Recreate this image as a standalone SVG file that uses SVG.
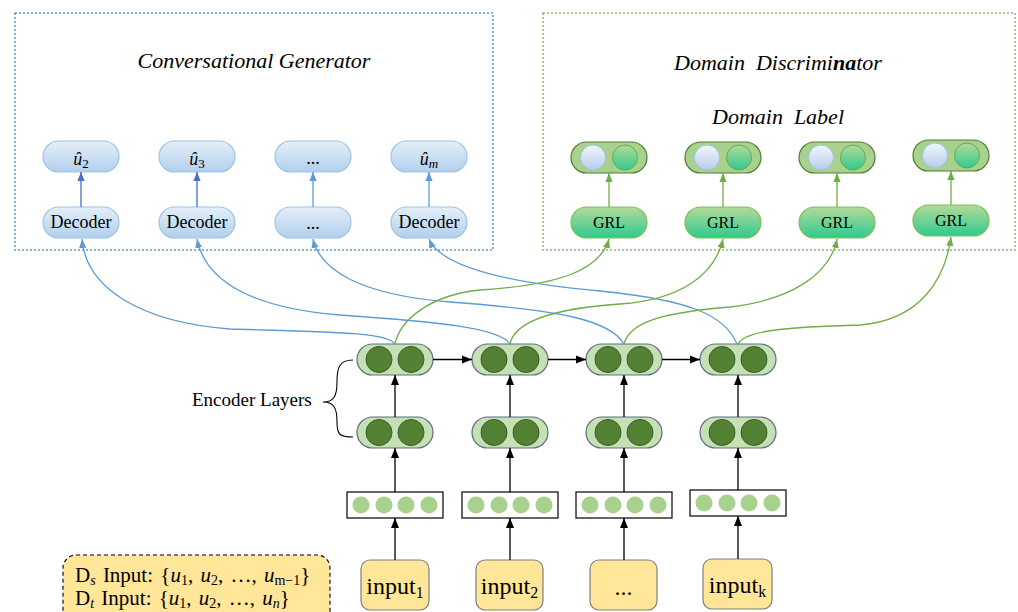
<svg xmlns="http://www.w3.org/2000/svg" width="1018" height="612" viewBox="0 0 1018 612">
<defs>
<linearGradient id="gBlue" x1="0" y1="0" x2="0" y2="1"><stop offset="0" stop-color="#e4eff9"/><stop offset="1" stop-color="#b2cfec"/></linearGradient>
<linearGradient id="gGrl" x1="0" y1="0" x2="0" y2="1"><stop offset="0" stop-color="#b3da98"/><stop offset="1" stop-color="#2fca8f"/></linearGradient>
<linearGradient id="gBc" x1="0" y1="0" x2="0" y2="1"><stop offset="0" stop-color="#f2f7fd"/><stop offset="1" stop-color="#b6cdea"/></linearGradient>
<marker id="aK" viewBox="0 0 10 10" refX="10" refY="5" markerWidth="10" markerHeight="10" markerUnits="userSpaceOnUse" orient="auto"><path d="M0,1 L10,5 L0,9 z" fill="#000"/></marker>
<marker id="aB" viewBox="0 0 10 10" refX="10" refY="5" markerWidth="9" markerHeight="9" markerUnits="userSpaceOnUse" orient="auto"><path d="M0,1 L10,5 L0,9 z" fill="#5b9bd5"/></marker>
<marker id="aB2" viewBox="0 0 10 10" refX="10" refY="5" markerWidth="9" markerHeight="9" markerUnits="userSpaceOnUse" orient="auto"><path d="M0,1 L10,5 L0,9 z" fill="#4472c4"/></marker>
<marker id="aG" viewBox="0 0 10 10" refX="10" refY="5" markerWidth="9" markerHeight="9" markerUnits="userSpaceOnUse" orient="auto"><path d="M0,1 L10,5 L0,9 z" fill="#70ad47"/></marker>
</defs>
<style>
text{font-family:"Liberation Serif","Times New Roman",serif;fill:#000}
.ttl{font-size:22px;font-style:italic}
.dec{fill:url(#gBlue);stroke:#9dc3e6;stroke-width:1.2}
.grl{fill:url(#gGrl);stroke:#7fbf56;stroke-width:1.2}
.lab{fill:#a9d18e;stroke:#507e32;stroke-width:1.2}
.bc{fill:url(#gBc);stroke:#9dc3e6;stroke-width:1}
.gc{fill:url(#gGrl);stroke:#6aa843;stroke-width:1}
.enc{fill:#c5e0b4;stroke:#5e6e7e;stroke-width:1.2}
.ec{fill:#548235;stroke:#3b5c24;stroke-width:1}
.emb{fill:#fff;stroke:#000;stroke-width:1.2}
.ed{fill:#a9d18e}
.inp{fill:#ffe699;stroke:#7f7f7f;stroke-width:1.2}
.nt{font-size:18px;text-anchor:middle}
.gt{font-size:16px;text-anchor:middle}
.it{font-size:24px;text-anchor:middle}
.blue{fill:none;stroke:#5b9bd5;stroke-width:1.3;marker-end:url(#aB)}
.green{fill:none;stroke:#70ad47;stroke-width:1.3;marker-end:url(#aG)}
.blk{fill:none;stroke:#000;stroke-width:1.3;marker-end:url(#aK)}
.lg{font-size:21px;word-spacing:2px}
</style>

<g id="generator-frame">
<rect x="15" y="13" width="478" height="237" fill="none" stroke="#5b9bd5" stroke-width="1.5" stroke-dasharray="2,2"/>
<text class="ttl" x="254" y="68" text-anchor="middle">Conversational Generator</text>
</g>
<g id="discriminator-frame">
<rect x="543" y="13" width="472" height="237" fill="none" stroke="#8fb878" stroke-width="1.5" stroke-dasharray="2,2"/>
<text class="ttl" x="778" y="70" text-anchor="middle" xml:space="preserve">Domain  Discrimi<tspan font-weight="bold">na</tspan>tor</text>
<text class="ttl" x="778" y="124" text-anchor="middle" xml:space="preserve">Domain  Label</text>
</g>

<g id="out1"><rect class="dec" x="43" y="141" width="76" height="31" rx="15.5"/><text class="nt" x="81" y="165"><tspan font-style="italic">û</tspan><tspan font-size="13" dy="3">2</tspan></text></g>
<g id="out2"><rect class="dec" x="159" y="141" width="76" height="31" rx="15.5"/><text class="nt" x="197" y="165"><tspan font-style="italic">û</tspan><tspan font-size="13" dy="3">3</tspan></text></g>
<g id="out3"><rect class="dec" x="275" y="141" width="76" height="31" rx="15.5"/><text class="nt" x="313" y="164">...</text></g>
<g id="out4"><rect class="dec" x="391" y="141" width="76" height="31" rx="15.5"/><text class="nt" x="429" y="165"><tspan font-style="italic">û</tspan><tspan font-size="13" font-style="italic" dy="3">m</tspan></text></g>

<g id="dec1"><rect class="dec" x="43" y="207" width="76" height="31" rx="15.5"/><text class="nt" x="81" y="228">Decoder</text></g>
<g id="dec2"><rect class="dec" x="159" y="207" width="76" height="31" rx="15.5"/><text class="nt" x="197" y="228">Decoder</text></g>
<g id="dec3"><rect class="dec" x="275" y="207" width="76" height="31" rx="15.5"/><text class="nt" x="313" y="229">...</text></g>
<g id="dec4"><rect class="dec" x="391" y="207" width="76" height="31" rx="15.5"/><text class="nt" x="429" y="228">Decoder</text></g>

<g id="label1"><rect class="lab" x="571" y="142" width="76" height="31" rx="15.5"/><circle class="bc" cx="593" cy="157.5" r="12.5"/><circle class="gc" cx="625" cy="157.5" r="12.5"/></g>
<g id="label2"><rect class="lab" x="685" y="142" width="76" height="31" rx="15.5"/><circle class="bc" cx="707" cy="157.5" r="12.5"/><circle class="gc" cx="739" cy="157.5" r="12.5"/></g>
<g id="label3"><rect class="lab" x="799" y="142" width="76" height="31" rx="15.5"/><circle class="bc" cx="821" cy="157.5" r="12.5"/><circle class="gc" cx="853" cy="157.5" r="12.5"/></g>
<g id="label4"><rect class="lab" x="913" y="140" width="76" height="31" rx="15.5"/><circle class="bc" cx="935" cy="155.5" r="12.5"/><circle class="gc" cx="967" cy="155.5" r="12.5"/></g>

<g id="grl1"><rect class="grl" x="571" y="207" width="76" height="31" rx="15.5"/><text class="gt" x="609" y="228">GRL</text></g>
<g id="grl2"><rect class="grl" x="685" y="207" width="76" height="31" rx="15.5"/><text class="gt" x="723" y="228">GRL</text></g>
<g id="grl3"><rect class="grl" x="799" y="207" width="76" height="31" rx="15.5"/><text class="gt" x="837" y="228">GRL</text></g>
<g id="grl4"><rect class="grl" x="913" y="205" width="76" height="31" rx="15.5"/><text class="gt" x="951" y="226">GRL</text></g>

<g id="enc-top1"><rect class="enc" x="357" y="344" width="76" height="31" rx="15.5"/><circle class="ec" cx="379" cy="359.5" r="13"/><circle class="ec" cx="411" cy="359.5" r="13"/></g>
<g id="enc-top2"><rect class="enc" x="472" y="344" width="76" height="31" rx="15.5"/><circle class="ec" cx="494" cy="359.5" r="13"/><circle class="ec" cx="526" cy="359.5" r="13"/></g>
<g id="enc-top3"><rect class="enc" x="586" y="344" width="76" height="31" rx="15.5"/><circle class="ec" cx="608" cy="359.5" r="13"/><circle class="ec" cx="640" cy="359.5" r="13"/></g>
<g id="enc-top4"><rect class="enc" x="700" y="344" width="76" height="31" rx="15.5"/><circle class="ec" cx="722" cy="359.5" r="13"/><circle class="ec" cx="754" cy="359.5" r="13"/></g>

<g id="enc-bot1"><rect class="enc" x="357" y="417" width="76" height="31" rx="15.5"/><circle class="ec" cx="379" cy="432.5" r="13"/><circle class="ec" cx="411" cy="432.5" r="13"/></g>
<g id="enc-bot2"><rect class="enc" x="472" y="417" width="76" height="31" rx="15.5"/><circle class="ec" cx="494" cy="432.5" r="13"/><circle class="ec" cx="526" cy="432.5" r="13"/></g>
<g id="enc-bot3"><rect class="enc" x="586" y="417" width="76" height="31" rx="15.5"/><circle class="ec" cx="608" cy="432.5" r="13"/><circle class="ec" cx="640" cy="432.5" r="13"/></g>
<g id="enc-bot4"><rect class="enc" x="700" y="417" width="76" height="31" rx="15.5"/><circle class="ec" cx="722" cy="432.5" r="13"/><circle class="ec" cx="754" cy="432.5" r="13"/></g>

<g id="encoder-label">
<text x="192" y="406" font-size="19">Encoder Layers</text>
<path d="M353,360 C339,360 337,368 337,382 C337,396 334,402 323,402 C334,402 337,408 337,422 C337,434 339,437 353,437" fill="none" stroke="#000" stroke-width="1.1"/>
</g>

<g id="emb1"><rect class="emb" x="347" y="492" width="96" height="26"/><circle class="ed" cx="361" cy="505" r="8.5"/><circle class="ed" cx="384" cy="505" r="8.5"/><circle class="ed" cx="406" cy="505" r="8.5"/><circle class="ed" cx="429" cy="505" r="8.5"/></g>
<g id="emb2"><rect class="emb" x="462" y="492" width="96" height="26"/><circle class="ed" cx="476" cy="505" r="8.5"/><circle class="ed" cx="499" cy="505" r="8.5"/><circle class="ed" cx="521" cy="505" r="8.5"/><circle class="ed" cx="544" cy="505" r="8.5"/></g>
<g id="emb3"><rect class="emb" x="576" y="492" width="96" height="26"/><circle class="ed" cx="590" cy="505" r="8.5"/><circle class="ed" cx="613" cy="505" r="8.5"/><circle class="ed" cx="635" cy="505" r="8.5"/><circle class="ed" cx="658" cy="505" r="8.5"/></g>
<g id="emb4"><rect class="emb" x="690" y="490" width="96" height="26"/><circle class="ed" cx="704" cy="503" r="8.5"/><circle class="ed" cx="727" cy="503" r="8.5"/><circle class="ed" cx="749" cy="503" r="8.5"/><circle class="ed" cx="772" cy="503" r="8.5"/></g>

<g id="input1"><rect class="inp" x="361" y="560" width="68" height="50" rx="9"/><text class="it" x="395" y="594">input<tspan font-size="16" dy="4">1</tspan></text></g>
<g id="input2"><rect class="inp" x="476" y="560" width="67" height="50" rx="9"/><text class="it" x="509.5" y="594">input<tspan font-size="16" dy="4">2</tspan></text></g>
<g id="input3"><rect class="inp" x="590" y="560" width="67" height="50" rx="9"/><text class="it" x="623.5" y="595">...</text></g>
<g id="input4"><rect class="inp" x="703" y="559" width="69" height="50" rx="9"/><text class="it" x="737.5" y="593">input<tspan font-size="16" dy="4">k</tspan></text></g>

<g id="legend">
<rect x="63" y="555" width="267" height="70" rx="13" fill="#ffe699" stroke="#000" stroke-width="1.1" stroke-dasharray="4,3"/>
<text class="lg" x="75" y="582">D<tspan font-size="14" font-style="italic" dy="3">s</tspan><tspan dy="-3"> Input: {</tspan><tspan font-style="italic">u</tspan><tspan font-size="14" dy="3">1</tspan><tspan dy="-3">, </tspan><tspan font-style="italic">u</tspan><tspan font-size="14" dy="3">2</tspan><tspan dy="-3">, …, </tspan><tspan font-style="italic">u</tspan><tspan font-size="14" dy="3">m−1</tspan><tspan dy="-3">}</tspan></text>
<text class="lg" x="75" y="605">D<tspan font-size="14" font-style="italic" dy="3">t</tspan><tspan dy="-3"> Input: {</tspan><tspan font-style="italic">u</tspan><tspan font-size="14" dy="3">1</tspan><tspan dy="-3">, </tspan><tspan font-style="italic">u</tspan><tspan font-size="14" dy="3">2</tspan><tspan dy="-3">, …, </tspan><tspan font-style="italic">u</tspan><tspan font-size="14" font-style="italic" dy="3">n</tspan><tspan dy="-3">}</tspan></text>
</g>

<g id="connectors">
<line x1="81" y1="207" x2="81" y2="172" stroke="#4472c4" stroke-width="1.3" marker-end="url(#aB2)"/>
<line x1="197" y1="207" x2="197" y2="172" stroke="#4472c4" stroke-width="1.3" marker-end="url(#aB2)"/>
<line x1="313" y1="207" x2="313" y2="172" stroke="#5b9bd5" stroke-width="1.3" marker-end="url(#aB)"/>
<line x1="429" y1="207" x2="429" y2="172" stroke="#5b9bd5" stroke-width="1.3" marker-end="url(#aB)"/>
<line x1="609" y1="207" x2="609" y2="173" stroke="#70ad47" stroke-width="1.3" marker-end="url(#aG)"/>
<line x1="723" y1="207" x2="723" y2="173" stroke="#70ad47" stroke-width="1.3" marker-end="url(#aG)"/>
<line x1="837" y1="207" x2="837" y2="173" stroke="#70ad47" stroke-width="1.3" marker-end="url(#aG)"/>
<line x1="951" y1="205" x2="951" y2="171" stroke="#70ad47" stroke-width="1.3" marker-end="url(#aG)"/>

<path class="blue" d="M395,344 C388,332 330,332 230,329 C140,322 86,288 82,239"/>
<path class="blue" d="M510,344 C500,328 440,322 340,315 C250,308 205,280 197,239"/>
<path class="blue" d="M624,344 C610,320 560,310 450,302 C360,295 320,270 313,239"/>
<path class="blue" d="M737,344 C725,315 690,300 600,291 C500,282 440,265 429,239"/>

<path class="green" d="M395,344 C400,320 430,295 480,290 C560,285 600,270 609,239"/>
<path class="green" d="M510,344 C515,320 560,308 620,304 C680,300 715,275 723,239"/>
<path class="green" d="M624,344 C630,320 670,312 730,307 C790,300 830,275 837,239"/>
<path class="green" d="M738,344 C745,330 790,327 860,325 C920,320 945,280 951,237"/>

<line class="blk" x1="433" y1="359.5" x2="472" y2="359.5"/>
<line class="blk" x1="548" y1="359.5" x2="586" y2="359.5"/>
<line class="blk" x1="662" y1="359.5" x2="700" y2="359.5"/>

<line class="blk" x1="395" y1="417" x2="395" y2="375"/>
<line class="blk" x1="510" y1="417" x2="510" y2="375"/>
<line class="blk" x1="624" y1="417" x2="624" y2="375"/>
<line class="blk" x1="738" y1="417" x2="738" y2="375"/>

<line class="blk" x1="395" y1="492" x2="395" y2="448"/>
<line class="blk" x1="510" y1="492" x2="510" y2="448"/>
<line class="blk" x1="624" y1="492" x2="624" y2="448"/>
<line class="blk" x1="738" y1="490" x2="738" y2="448"/>

<line class="blk" x1="395" y1="560" x2="395" y2="518"/>
<line class="blk" x1="510" y1="560" x2="510" y2="518"/>
<line class="blk" x1="624" y1="560" x2="624" y2="518"/>
<line class="blk" x1="738" y1="559" x2="738" y2="516"/>
</g>
</svg>
